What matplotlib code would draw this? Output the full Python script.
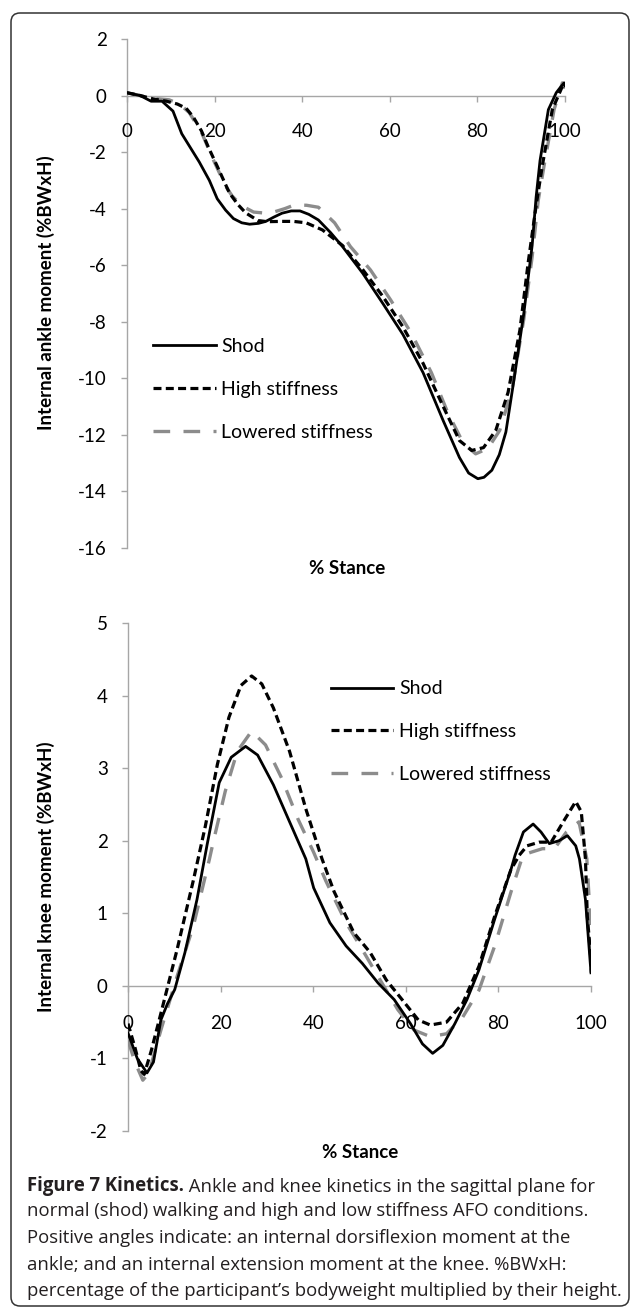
import matplotlib
matplotlib.use("Agg")
import matplotlib.pyplot as plt
from matplotlib.patches import FancyBboxPatch

# ── Data ───────────────────────────────────────────────────────────────────
# Ankle: internal ankle moment (%BWxH) vs % stance
ankle_shod_x = [0, 3, 5.5, 8, 10.5, 12.5, 14.5, 16.5, 18.8, 20.6, 22.5, 24.3, 26.2, 28,
                30, 31.7, 33.5, 35.4, 37.5, 39.5, 41.5, 43.7, 46.5, 49.2, 53.8, 58.4,
                63, 67.6, 72.2, 75.9, 78, 80.1, 81.5, 83.3, 85, 86.5, 88.3, 90.6, 92.5,
                93.4, 94.3, 96.2, 98, 99, 99.8, 100]
ankle_shod_y = [0.1, 0.0, -0.2, -0.2, -0.55, -1.35, -1.85, -2.35, -3.0, -3.65, -4.05,
                -4.35, -4.5, -4.55, -4.52, -4.45, -4.3, -4.16, -4.08, -4.08, -4.2, -4.4,
                -4.85, -5.34, -6.28, -7.35, -8.45, -9.8, -11.5, -12.8, -13.35, -13.55,
                -13.5, -13.25, -12.7, -11.9, -10.1, -7.7, -5.3, -3.6, -2.3, -0.5, 0.1,
                0.3, 0.45, 0.35]

ankle_high_x = [0, 3, 6, 9, 11.5, 13.5, 15.1, 17, 18.5, 20.6, 23.4, 25.3, 27.1, 29.9, 32,
                35.4, 38, 40.9, 44.6, 49.2, 53.8, 58.4, 63, 67.6, 72.2, 75.9, 78.7,
                81.4, 84.2, 87, 89.7, 91.6, 93.4, 94.8, 97.1, 99.4, 100]
ankle_high_y = [0.1, 0.0, -0.12, -0.2, -0.3, -0.45, -0.75, -1.25, -1.8, -2.5, -3.45,
                -3.85, -4.15, -4.42, -4.46, -4.45, -4.45, -4.5, -4.75, -5.3, -6.15, -7.1,
                -8.18, -9.47, -11.0, -12.2, -12.55, -12.45, -11.84, -10.5, -8.3, -5.9,
                -3.9, -2.5, -0.5, 0.33, 0.2]

ankle_low_x = [0, 3, 6, 9.6, 12, 14.2, 17, 19.7, 22.5, 24, 26.2, 28.9, 31, 33.5, 36,
               38.2, 41, 43.7, 47.4, 51, 55.6, 60.2, 64.9, 69.5, 73.2, 76.8, 79.6, 82.4,
               85.1, 87.9, 90.6, 92.5, 93.9, 95.2, 97.5, 99.4, 100]
ankle_low_y = [0.1, 0.0, -0.1, -0.15, -0.3, -0.6, -1.3, -2.27, -3.2, -3.55, -3.9, -4.12,
               -4.15, -4.12, -4.0, -3.87, -3.88, -3.95, -4.5, -5.34, -6.17, -7.23, -8.4,
               -9.8, -11.2, -12.3, -12.67, -12.48, -11.84, -10.4, -7.9, -5.7, -3.7,
               -2.5, -0.5, 0.45, 0.25]

# Knee: internal knee moment (%BWxH) vs % stance
knee_shod_x = [0, 2, 4.1, 5.5, 7.1, 8.5, 10.1, 12.3, 14.9, 17.1, 19.7, 22.3, 25.4,
               28, 31.4, 34.9, 38.4, 40.1, 43.6, 47.1, 50.6, 54, 57.5, 61, 63.6, 65.8,
               68, 70.6, 73.2, 75.8, 79.2, 82.7, 83.6, 85.4, 87.5, 89.2, 91, 93.1, 94.9,
               96.7, 97.5, 98.8, 100]
knee_shod_y = [-0.65, -1.0, -1.2, -1.05, -0.47, -0.25, -0.05, 0.46, 1.19, 1.95,
               2.8, 3.15, 3.3, 3.18, 2.77, 2.26, 1.75, 1.35, 0.87, 0.55, 0.31, 0.04,
               -0.19, -0.52, -0.8, -0.93, -0.82, -0.52, -0.19, 0.22, 0.92, 1.6, 1.8,
               2.12, 2.23, 2.12, 1.96, 2.0, 2.07, 1.93, 1.75, 1.19, 0.18]

knee_high_x = [0, 1.5, 2.8, 3.5, 5, 7.1, 10.6, 14.1, 16.7, 19.3, 21.8, 24.4, 26.7,
               28.9, 31.4, 34.9, 38.4, 41.9, 44.5, 48.8, 52.3, 55.8, 59.2, 62.7, 65.3,
               68.8, 72.3, 75.8, 79.2, 82.7, 84.5, 86.2, 88.8, 91.4, 94, 96.7, 97.9,
               98.8, 99.2, 100]
knee_high_y = [-0.52, -0.85, -1.17, -1.22, -0.9, -0.38, 0.5, 1.45, 2.2, 3.05, 3.7,
               4.14, 4.27, 4.16, 3.83, 3.23, 2.44, 1.75, 1.3, 0.73, 0.46, 0.08, -0.19,
               -0.47, -0.54, -0.5, -0.24, 0.27, 0.96, 1.6, 1.8, 1.93, 1.98, 1.98, 2.26,
               2.54, 2.4, 1.75, 0.96, 0.36]

knee_low_x = [0, 1.5, 3.2, 4.5, 7.1, 10.6, 14.1, 17.6, 18.4, 21, 23.6, 26.7, 29.7, 33.2,
              36.7, 40.1, 42.7, 43.6, 47.1, 50.6, 54, 58.3, 61.8, 65.3, 68.8, 72.3,
              75.8, 79.2, 82.7, 85.3, 87, 89.5, 92.1, 94.7, 97.4, 99.1, 99.6, 100]
knee_low_y = [-0.75, -1.05, -1.3, -1.2, -0.61, 0.13, 0.82, 1.75, 1.98, 2.68, 3.23, 3.51,
              3.32, 2.86, 2.3, 1.84, 1.45, 1.33, 0.87, 0.5, 0.13, -0.33, -0.61, -0.7,
              -0.66, -0.43, -0.06, 0.55, 1.29, 1.8, 1.84, 1.89, 1.89, 2.12, 2.26, 1.75,
              1.19, 0.18]

SERIES_LABELS = ["Shod", "High stiffness", "Lowered stiffness"]
X_TICKS = [0, 20, 40, 60, 80, 100]
ANKLE_YTICKS = list(range(-16, 3, 2))
KNEE_YTICKS = list(range(-2, 6))

CAPTION_BOLD = "Figure 7 Kinetics."
CAPTION_LINES = [
    " Ankle and knee kinetics in the sagittal plane for",
    "normal (shod) walking and high and low stiffness AFO conditions.",
    "Positive angles indicate: an internal dorsiflexion moment at the",
    "ankle; and an internal extension moment at the knee. %BWxH:",
    "percentage of the participant\u2019s bodyweight multiplied by their height.",
]

# ── Style ──────────────────────────────────────────────────────────────────
W, H = 631, 1308
DPI = 100
CHART_FONT = ["Lato", "DejaVu Sans"]
CAP_FONT = ["Open Sans", "DejaVu Sans"]
AXIS_GREY = "#a6a6a6"
LINE_GREY = "#8c8c8c"
TXT = "#231f20"
FS = 13.5

plt.rcParams["font.family"] = CHART_FONT
plt.rcParams["axes.unicode_minus"] = False


def px_box(left, top, right, bottom):
    """Image pixel box -> figure fraction [l, b, w, h]."""
    return [left / W, 1 - bottom / H, (right - left) / W, (bottom - top) / H]


def draw_panel(ax, series, yticks, ylim, xpad, leg_anchor):
    styles = [
        dict(color="black", linewidth=2.0, linestyle="-", zorder=5),
        dict(color="black", linewidth=2.3, linestyle=(0, (2.5, 1.35)), zorder=4),
        dict(color=LINE_GREY, linewidth=2.4, linestyle=(0, (5.0, 4.0)), zorder=3),
    ]
    handles = []
    for (xs, ys), st, lab in zip(series, styles, SERIES_LABELS):
        h, = ax.plot(xs, ys, label=lab, **st)
        handles.append(h)

    ax.set_xlim(0, 100)
    ax.set_ylim(*ylim)
    ax.set_xticks(X_TICKS)
    ax.set_yticks(yticks)
    for s in ("top", "right"):
        ax.spines[s].set_visible(False)
    ax.spines["bottom"].set_position(("data", 0))
    for s in ("left", "bottom"):
        ax.spines[s].set_color(AXIS_GREY)
        ax.spines[s].set_linewidth(1.0)
        ax.spines[s].set_zorder(1)
    ax.tick_params(axis="both", colors=AXIS_GREY, length=4.5, width=1.0,
                   labelcolor="black", labelsize=FS)
    ax.tick_params(axis="y", pad=10)
    ax.tick_params(axis="x", pad=xpad)
    ax.set_facecolor("none")

    ax.legend(handles, SERIES_LABELS, loc="upper left", bbox_to_anchor=leg_anchor,
              frameon=False, fontsize=14, handlelength=3.2, handletextpad=0.3,
              labelspacing=1.33, borderpad=0, borderaxespad=0)


fig = plt.figure(figsize=(W / DPI, H / DPI), dpi=DPI)

# rounded frame around figure + caption
frame = FancyBboxPatch((11, 2), 618, 1293, boxstyle="round,pad=0,rounding_size=9",
                       transform=None, facecolor="none", edgecolor="#333333",
                       linewidth=1.1)
fig.add_artist(frame)

ax1 = fig.add_axes(px_box(127, 39, 565, 548))
draw_panel(ax1,
           [(ankle_shod_x, ankle_shod_y), (ankle_high_x, ankle_high_y),
            (ankle_low_x, ankle_low_y)],
           ANKLE_YTICKS, (-16, 2), 15, (0.06, 0.413))

ax2 = fig.add_axes(px_box(128, 623, 591, 1131))
draw_panel(ax2,
           [(knee_shod_x, knee_shod_y), (knee_high_x, knee_high_y),
            (knee_low_x, knee_low_y)],
           KNEE_YTICKS, (-2, 5), 16.5, (0.438, 0.887))

# axis titles
lab_kw = dict(fontsize=FS, fontweight="bold", color="black", ha="center", va="center")
fig.text(46 / W, 1 - 293 / H, "Internal ankle moment (%BWxH)", rotation=90, **lab_kw)
fig.text(46 / W, 1 - 877 / H, "Internal knee moment (%BWxH)", rotation=90, **lab_kw)
fig.text(347 / W, 1 - 568 / H, "% Stance", **lab_kw)
fig.text(360 / W, 1 - 1153 / H, "% Stance", **lab_kw)

# caption, sized so the last line fills the frame width
cap = fig.add_axes([0, 0, 1, 1])
cap.axis("off")
cap.set_xlim(0, W)
cap.set_ylim(H, 0)
renderer = fig.canvas.get_renderer()
probe = cap.text(27, 1295, CAPTION_LINES[-1], family=CAP_FONT, fontsize=10)
cap_fs = 10 * 598 / probe.get_window_extent(renderer).width
probe.remove()

baselines = [1190.5, 1216.5, 1243, 1269.5, 1295.5]
bold = cap.text(27, baselines[0], CAPTION_BOLD, family=CAP_FONT, fontsize=cap_fs,
                fontweight="bold", color=TXT, va="baseline")
cap.annotate(CAPTION_LINES[0], xy=(1, 0), xycoords=bold, family=CAP_FONT,
             fontsize=cap_fs, color=TXT, va="bottom")
for y, line in zip(baselines[1:], CAPTION_LINES[1:]):
    cap.text(27, y, line, family=CAP_FONT, fontsize=cap_fs, color=TXT, va="baseline")

fig.savefig("out.png", dpi=DPI)
